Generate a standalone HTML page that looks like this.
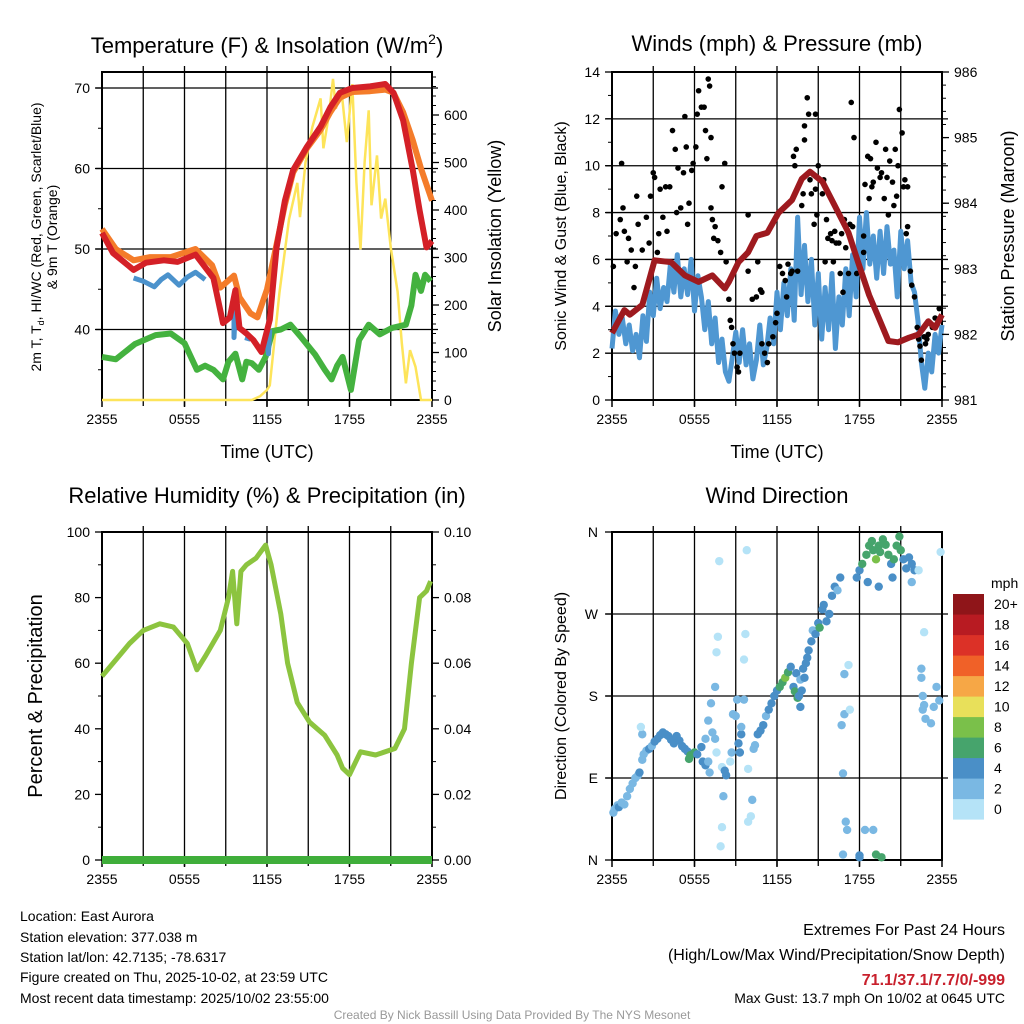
<!DOCTYPE html>
<html><head><meta charset="utf-8"><style>
html,body{margin:0;padding:0;background:#fff;width:1024px;height:1024px;overflow:hidden}
svg{display:block;font-family:"Liberation Sans",Arial,sans-serif}
</style></head><body>
<svg id="fig" width="1024" height="1024" viewBox="0 0 1024 1024" xmlns="http://www.w3.org/2000/svg">
<text x="267" y="53" font-size="22" text-anchor="middle">Temperature (F) &amp; Insolation (W/m<tspan font-size="14" dy="-9">2</tspan><tspan dy="9">)</tspan></text>
<text x="777" y="45" font-size="22" text-anchor="middle" dominant-baseline="middle">Winds (mph) &amp; Pressure (mb)</text>
<text x="267" y="497" font-size="22" text-anchor="middle" dominant-baseline="middle">Relative Humidity (%) &amp; Precipitation (in)</text>
<text x="777" y="497" font-size="22" text-anchor="middle" dominant-baseline="middle">Wind Direction</text>

<text transform="translate(41,237) rotate(-90)" font-size="14" text-anchor="middle">2m T, T<tspan font-size="9" dy="3">d</tspan><tspan dy="-3">, HI/WC (Red, Green, Scarlet/Blue)</tspan></text>
<text transform="translate(57,237) rotate(-90)" font-size="14" text-anchor="middle">&amp; 9m T (Orange)</text>
<text transform="translate(501,236) rotate(-90)" font-size="18" text-anchor="middle">Solar Insolation (Yellow)</text>
<text transform="translate(566,236) rotate(-90)" font-size="16" text-anchor="middle">Sonic Wind &amp; Gust (Blue, Black)</text>
<text transform="translate(1014,236) rotate(-90)" font-size="18" text-anchor="middle">Station Pressure (Maroon)</text>
<text transform="translate(42,696) rotate(-90)" font-size="20" text-anchor="middle">Percent &amp; Precipitation</text>
<text transform="translate(566,696) rotate(-90)" font-size="16" text-anchor="middle">Direction (Colored By Speed)</text>
<text x="267" y="458" font-size="18" text-anchor="middle">Time (UTC)</text>
<text x="777" y="458" font-size="18" text-anchor="middle">Time (UTC)</text>

<g font-size="14">
<text x="20" y="921">Location: East Aurora</text>
<text x="20" y="942">Station elevation: 377.038 m</text>
<text x="20" y="962">Station lat/lon: 42.7135; -78.6317</text>
<text x="20" y="982">Figure created on Thu, 2025-10-02, at 23:59 UTC</text>
<text x="20" y="1003">Most recent data timestamp: 2025/10/02 23:55:00</text>
</g>
<g text-anchor="end">
<text x="1005" y="935" font-size="16">Extremes For Past 24 Hours</text>
<text x="1005" y="960" font-size="16">(High/Low/Max Wind/Precipitation/Snow Depth)</text>
<text x="1005" y="985" font-size="16" font-weight="bold" fill="#c8202c">71.1/37.1/7.7/0/-999</text>
<text x="1005" y="1003" font-size="14">Max Gust: 13.7 mph On 10/02 at 0645 UTC</text>
</g>
<text x="512" y="1019" font-size="12" fill="#999" text-anchor="middle">Created By Nick Bassill Using Data Provided By The NYS Mesonet</text>
</svg>
<script>
// ---------- DATA ----------
const xTickLabels = ["2355","0555","1155","1755","2355"];
const tempTicks = [40,50,60,70];
const solarTicks = [0,100,200,300,400,500,600];
const windTicks = [0,2,4,6,8,10,12,14];
const pressTicks = [981,982,983,984,985,986];
const rhTicks = [0,20,40,60,80,100];
const precipTicks = ["0.00","0.02","0.04","0.06","0.08","0.10"];
const dirTicks = ["N","E","S","W","N"];
const speedBins = ["0","2","4","6","8","10","12","14","16","18","20+"];
const speedColors = ["#b5e3f7","#7ab8e3","#4a8fc7","#46a46c","#7ac04a","#e8e05a","#f6a746","#f06128","#dc3127","#b81b22","#8f1519"];

const tempHours = [0,0.8,2.3,3.2,4.5,5.5,6.8,8.1,8.8,9.3,9.7,10,10.5,11,11.6,12.2,12.7,13.3,13.9,14.9,15.9,16.6,17.3,18.2,19.5,20.6,21.2,21.9,22.6,23.1,23.6,24];
const tempValues = [52,49.5,47.4,48.3,48.6,48.4,49.3,46.4,40.8,41.5,44.9,40.2,39.5,38.7,37.2,41.2,50.2,56,59.8,62.7,65.2,67.6,69.4,70,70.2,70.5,69.4,66,59.8,54.8,50.2,51];
const temp9Hours = [0,1,2.3,3.5,5,6.8,8,8.6,9.6,10,10.8,11.3,12,12.5,13.3,13.9,14.9,15.9,16.6,17.3,18.2,19.5,20.6,21.2,21.9,22.6,23.2,24];
const temp9Values = [52.5,50,48.6,49,49,50,48,45.2,46.7,44,42,41.5,45,49,55.5,59.5,62.5,64.8,67,68.8,69.5,69.6,69.8,69.4,67,63.5,60,56];
const hiHours = [2.3,3,3.8,4.3,4.8,5.6,6.2,6.8,7.5,null,9.6,9.6,9.7,null,10.4,10.8,null,12.0,12.1,12.2];
const hiValues = [46.4,46,45.3,46.2,46.8,45.5,46.5,47.1,46.2,null,43,39,42.5,null,39,38.8,null,39,37,40];
const tdHours = [0,1,2.4,3.9,5,6,6.9,7.5,8.1,8.8,9.2,9.7,10.2,10.5,10.9,11.4,11.9,12.4,13,13.7,14.5,15.5,16.2,16.7,17.1,17.5,18.1,18.7,19.4,20.2,21.1,22.1,22.5,22.8,23.2,23.5,23.9];
const tdValues = [36.6,36.3,38.2,39.3,39.5,38.3,35,35.5,35,33.8,36,37,33.8,36,35.8,35,36.6,39.8,40,40.6,39,36.9,35,33.8,35.5,36.6,32.5,38.7,40.6,39.4,40.2,40.6,43,46.8,44.8,46.8,46];
const solarHours = [0,10.9,11.5,12,12.2,12.9,13.6,14.2,14.4,14.8,15.3,15.9,16.1,16.5,16.8,17,17.4,17.8,18.2,18.5,18.8,19.1,19.4,19.6,20,20.3,20.6,21,21.5,21.8,22.1,22.4,22.8,23.2,24];
const solarValues = [0,0,8,21,31,225,380,457,385,500,575,635,530,600,676,613,655,543,665,458,317,500,610,410,515,382,424,320,228,120,35,105,70,0,0];

const windHours = [0,0.25,0.5,0.75,1,1.25,1.5,1.75,2,2.25,2.5,2.75,3,3.25,3.5,3.75,4,4.25,4.5,4.75,5,5.25,5.5,5.75,6,6.25,6.5,6.75,7,7.25,7.5,7.75,8,8.25,8.5,8.75,9,9.25,9.5,9.75,10,10.25,10.5,10.75,11,11.25,11.5,11.75,12,12.25,12.5,12.75,13,13.25,13.5,13.75,14,14.25,14.5,14.75,15,15.25,15.5,15.75,16,16.25,16.5,16.75,17,17.25,17.5,17.75,18,18.25,18.5,18.75,19,19.25,19.5,19.75,20,20.25,20.5,20.75,21,21.25,21.5,21.75,22,22.25,22.5,22.75,23,23.25,23.5,23.75,24];
const windValues = [2.2,3.8,2.8,3.5,2.4,3.2,2.1,2.8,1.8,3.6,2.5,4.6,3.6,5.2,3.9,4.8,4.2,5.8,4.6,6.2,4.4,5.6,4.5,6.0,3.8,5.3,4.4,3.0,4.2,2.4,3.5,1.6,2.6,1.2,0.8,1.8,2.9,1.6,3.0,1.5,2.4,0.9,1.7,3.2,1.5,2.2,3.5,2.4,4.6,3.0,5.0,3.6,5.6,3.4,7.8,4.5,6.6,4.2,6.0,3.2,5.4,2.6,4.8,3.0,5.4,2.2,4.4,3.2,5.6,3.6,6.2,4.4,7.8,5.6,8.0,5.8,7.0,5.2,7.2,5.4,7.4,5.8,6.4,4.4,7.2,5.6,6.8,5.0,4.6,3.4,1.6,0.5,2.0,1.2,2.8,2.0,3.2];
const pressHours = [0,0.9,1.3,2.2,3.1,4.3,5.3,6.3,7.3,8.2,8.5,9.2,9.9,10.5,11.3,12.1,13.1,13.8,14.4,15.3,16.2,17.2,17.9,18.7,19.4,20.1,20.8,21.6,22.3,23,23.5,24];
const pressValues = [982.02,982.37,982.3,982.45,983.13,983.1,982.9,982.8,982.9,982.7,982.8,983.1,983.25,983.5,983.55,983.85,984.05,984.37,984.48,984.33,983.96,983.55,983.1,982.6,982.25,981.9,981.88,981.95,982.0,982.2,982.1,982.3];
const gustHours = [0.1,0.3,0.7,0.6,0.8,0.9,1.2,1.1,1.4,1.7,1.6,1.8,1.9,2.2,2.5,2.7,2.8,3.0,3.1,3.4,3.3,3.5,3.7,3.9,4.0,4.2,4.4,4.6,4.7,4.8,5.0,5.2,5.3,5.4,5.5,5.6,5.8,5.9,6.1,6.2,6.3,6.5,6.7,6.8,6.9,7.0,7.1,7.2,7.2,7.3,7.5,7.4,7.7,7.9,8.0,8.2,8.3,8.5,8.6,8.7,8.8,8.9,9.1,9.2,9.3,9.9,9.9,10.2,10.5,10.6,10.8,10.9,10.9,11.1,11.3,11.4,11.7,11.9,12.0,12.2,12.4,12.6,12.7,12.8,13.0,13.1,13.2,13.3,13.4,13.5,13.8,13.9,14.0,14.0,14.2,14.3,14.4,14.5,14.7,14.8,14.8,14.9,15.0,15.3,15.4,15.5,15.6,15.7,15.9,16.0,16.1,16.2,16.3,16.5,16.6,16.7,16.8,16.9,17.0,17.2,17.3,17.4,17.5,17.6,17.8,18.3,18.3,18.4,18.6,18.7,18.8,18.9,19.0,19.2,19.3,19.5,19.6,19.8,19.9,20.0,20.1,20.2,20.4,20.5,20.6,20.7,20.8,20.9,21.1,21.2,21.3,21.4,21.5,21.5,21.7,21.8,22.0,22.2,22.3,22.4,22.5,22.7,22.8,22.9,23.0,23.3,23.5,23.8];
const gustValues = [5.7,7.1,10.1,7.7,8.2,7.2,6.9,5.9,6.4,5.7,4.8,8.7,7.5,6.4,7.8,6.7,8.7,9.7,9.5,7.1,6.3,9.0,7.8,9.1,7.2,9.1,11.5,10.7,8.0,9.9,8.2,9.7,12.1,10.8,7.5,8.4,9.8,10.1,10.8,12.2,13.2,12.5,12.5,11.5,10.3,13.7,13.4,11.2,8.2,7.7,7.4,6.9,6.8,6.3,9.1,10.1,5.9,4.3,3.4,3.1,2.4,2.0,1.4,1.2,2.0,7.9,5.5,4.3,4.4,5.9,4.7,4.6,2.4,2.0,1.6,2.4,2.7,3.3,3.7,5.7,5.4,5.1,4.4,5.8,5.4,5.5,10.4,10.0,10.7,5.5,8.3,8.8,11.7,11.1,12.9,12.2,9.4,8.8,7.5,12.2,9.0,7.9,10.0,8.8,9.4,5.9,7.7,6.9,7.1,6.8,5.9,7.2,6.7,6.7,5.4,7.1,4.6,7.7,6.5,5.4,7.5,12.7,7.4,11.2,5.4,7.0,6.3,9.2,10.4,8.6,10.3,9.1,9.3,11.0,9.9,9.5,9.7,8.6,10.7,9.5,7.9,10.2,9.3,8.3,10.7,8.7,10.0,12.4,11.4,9.1,9.4,7.1,9.1,7.4,5.5,4.9,4.4,3.1,2.6,2.3,1.7,2.7,2.4,2.6,2.8,3.1,3.5,3.9];

const rhHours = [0,1,2,3,4.2,5.2,6.2,6.9,7.5,8.6,9.2,9.5,9.8,10.1,10.5,11.2,11.9,12.3,13,13.5,14.2,15.1,16.2,17.1,17.5,18,18.8,19.9,21.3,22,22.5,23.1,23.6,23.9];
const rhValues = [56,61,66,70,72,71,66,58,62,70,80,88,72,88,90,92,96,90,75,60,48,42,38,32,28,26,33,32,34,40,60,80,82,85];
const precipHours = [0,24];
const precipValues = [0,0];

const dirHours = [
0.1,0.2,0.4,0.5,0.7,0.9,1.1,1.3,1.5,1.7,
1.9,2.0,2.2,2.3,2.5,2.7,2.9,2.2,2.1,3.1,
3.3,3.5,3.7,3.9,4.1,4.3,4.5,4.7,4.9,5.1,
5.3,5.5,5.7,5.6,6.0,6.2,6.5,6.6,6.8,7.0,
7.1,6.8,7.0,7.3,7.5,7.6,7.2,7.5,7.6,7.7,
7.8,8.0,8.2,8.3,8.1,8.0,7.9,8.6,8.7,8.8,
9.0,9.1,9.2,9.4,9.3,9.4,9.6,9.6,9.7,9.8,
9.9,10.2,10.1,9.9,10.3,10.4,10.6,10.8,11.0,11.2,
11.4,11.6,11.8,12.0,12.2,12.4,12.6,12.8,13.0,13.2,
13.4,13.3,13.5,13.6,13.7,13.7,13.8,13.9,14.0,14.1,
14.2,14.3,14.5,14.6,14.8,15.0,15.1,15.3,15.4,15.6,
15.8,16.0,16.2,16.4,16.6,16.8,17.0,17.1,16.7,16.9,
17.3,16.9,17.2,16.8,18.0,18.0,18.4,19.0,19.2,19.6,
17.8,18.0,18.2,18.5,18.7,18.9,19.0,19.2,19.4,19.5,
19.7,19.9,20.1,20.3,20.5,20.7,20.9,21.0,21.2,21.4,
21.6,21.8,22.0,18.6,19.4,20.4,21.8,22.3,22.5,22.6,
22.6,22.7,22.8,23.2,23.4,23.6,23.8,23.9,22.7,22.5];
const dirValues = [
52,56,60,58,63,61,70,78,84,90,
93,96,110,116,120,122,125,138,146,130,
133,137,140,138,136,132,128,136,131,125,
122,119,115,111,118,116,124,108,104,108,
96,133,153,140,133,118,172,190,228,245,
328,102,98,93,70,36,15,108,118,160,
158,176,128,138,118,146,176,220,248,340,
100,66,48,42,122,126,138,142,148,158,
165,172,180,186,190,195,200,206,212,190,
205,185,178,180,168,198,186,210,200,216,
222,230,240,252,248,260,255,275,280,262,
270,290,300,296,310,95,42,33,148,160,
165,204,214,6,3,5,33,33,6,3,
310,318,325,335,345,350,340,330,345,338,
352,346,335,325,330,345,355,340,330,320,
332,325,318,305,300,310,305,318,210,180,
165,170,155,150,168,190,175,338,250,200];
const dirSpeedClass = [
1,1,1,2,1,1,1,1,1,1,
1,2,1,1,1,2,1,1,0,2,
2,2,2,2,2,2,2,2,2,2,
2,2,3,3,3,2,2,2,2,1,
1,1,1,1,1,0,1,1,0,0,
0,0,2,2,1,0,0,0,1,1,
1,1,2,2,2,1,1,0,0,0,
0,1,0,0,1,1,2,2,2,1,
2,2,2,2,3,3,4,3,2,2,
2,3,3,2,2,1,2,2,2,2,
2,2,2,1,2,2,3,2,2,2,
2,2,2,1,2,1,1,1,1,1,
0,1,0,1,2,2,1,1,3,3,
2,2,3,3,3,3,3,4,3,3,
3,3,3,2,3,3,3,3,2,2,
2,2,2,2,2,2,1,0,1,1,
1,1,1,1,1,1,1,0,0,1];

// ---------- DRAW ----------
const NS = "http://www.w3.org/2000/svg";
const fig = document.getElementById('fig');
function mk(tag, attrs, parent){ const e=document.createElementNS(NS,tag); for(const k in attrs) e.setAttribute(k,attrs[k]); (parent||fig).appendChild(e); return e; }

function panel(L,T,W,H){ return {L,T,W,H, x:h=>L+h*W/24}; }
const P1 = panel(102,72,330,328), P2 = panel(612,72,330,328), P3 = panel(102,532,330,328), P4 = panel(612,532,330,328);
const yTemp = v=>88+(70-v)*8.05;
const ySolar = v=>400-v*0.475;
const yWind = v=>400-v*(328/14);
const yPress = v=>400-(v-981)*(328/5);
const yRH = v=>860-v*3.28;
const yPrecip = v=>860-v*3280;
const yDir = v=>860-v*(328/360);

function linePath(hs,vs,P,yf){
  let d="",pen=false;
  for(let i=0;i<hs.length;i++){
    if(hs[i]===null||vs[i]===null){pen=false;continue;}
    d+=(pen?"L":"M")+P.x(hs[i]).toFixed(1)+","+yf(vs[i]).toFixed(1);
    pen=true;
  }
  return d;
}
function clipFor(P,id){ const c=mk('clipPath',{id:id}); mk('rect',{x:P.L-3,y:P.T-3,width:P.W+6,height:P.H+6},c); return 'url(#'+id+')'; }

function frame(P,name,hGrid,vGrid){
  const g=mk('g',{});
  
  
  if(vGrid) for(let k=1;k<8;k++){ const x=P.x(k*3); mk('line',{x1:x,y1:P.T-6,x2:x,y2:P.T+P.H+6,stroke:'#000','stroke-width':1.3},g); }
  (hGrid||[]).forEach(y=>mk('line',{x1:P.L-6,y1:y,x2:P.L+P.W+6,y2:y,stroke:'#000','stroke-width':1.3},g));
  mk('rect',{x:P.L,y:P.T,width:P.W,height:P.H,fill:'none',stroke:'#000','stroke-width':2},g);
  xTickLabels.forEach((t,i)=>{
    const x=P.x(i*6);
    mk('line',{x1:x,y1:P.T+P.H,x2:x,y2:P.T+P.H+7,stroke:'#000','stroke-width':1.5},g);
    const tx=mk('text',{x:x,y:P.T+P.H+24,'font-size':14,'text-anchor':'middle'},g); tx.textContent=t;
    
    
  });
  return g;
}
function leftLabels(P,vals,yf,fmt){
  vals.forEach(v=>{ const y=yf(v); mk('line',{x1:P.L-7,y1:y,x2:P.L,y2:y,stroke:'#000','stroke-width':1.3});
    const t=mk('text',{x:P.L-12,y:y+5,'font-size':14,'text-anchor':'end'}); t.textContent=fmt?fmt(v):v;
    
     });
}
function rightLabels(P,vals,yf,labels){
  vals.forEach((v,i)=>{ const y=yf(v); mk('line',{x1:P.L+P.W,y1:y,x2:P.L+P.W+7,y2:y,stroke:'#000','stroke-width':1.3});
    const t=mk('text',{x:P.L+P.W+12,y:y+5,'font-size':14,'text-anchor':'start'}); t.textContent=labels?labels[i]:v;
    
     });
}
function minorTicks(x,from,to,step,yf,dir){
  for(let v=from;v<=to+1e-9;v+=step){ const y=yf(v); if(y<72) continue; mk('line',{x1:x,y1:y,x2:x+dir*4,y2:y,stroke:'#000','stroke-width':1}); }
}

// Panel 1
frame(P1,'temp',tempTicks.map(yTemp),true);
const c1=clipFor(P1,'c1');
let s=mk('path',{d:linePath(solarHours,solarValues,P1,ySolar),fill:'none',stroke:'#fde45a','stroke-width':2.5,'clip-path':c1});
 
s=mk('path',{d:linePath(tdHours,tdValues,P1,yTemp),fill:'none',stroke:'#44b23f','stroke-width':6,'stroke-linejoin':'round','clip-path':c1});
 
s=mk('path',{d:linePath(hiHours,hiValues,P1,yTemp),fill:'none',stroke:'#4b92cc','stroke-width':5,'stroke-linejoin':'round','clip-path':c1});
 
s=mk('path',{d:linePath(temp9Hours,temp9Values,P1,yTemp),fill:'none',stroke:'#f47c2a','stroke-width':6,'stroke-linejoin':'round','clip-path':c1});
 
s=mk('path',{d:linePath(tempHours,tempValues,P1,yTemp),fill:'none',stroke:'#d42027','stroke-width':6,'stroke-linejoin':'round','clip-path':c1});
 
leftLabels(P1,tempTicks,yTemp); minorTicks(P1.L,35,65,10,yTemp,-1);
rightLabels(P1,solarTicks,ySolar); minorTicks(P1.L+P1.W,0,680,20,ySolar,1);

// Panel 2
frame(P2,'wind',windTicks.slice(1,7).map(yWind),true);
const c2=clipFor(P2,'c2');
s=mk('path',{d:linePath(windHours,windValues,P2,yWind),fill:'none',stroke:'#4f97d2','stroke-width':5,'stroke-linejoin':'round','clip-path':c2});
 
gustHours.forEach((h,i)=>{ const c=mk('circle',{cx:P2.x(h),cy:yWind(gustValues[i]),r:2.8,fill:'#000'});
    });
s=mk('path',{d:linePath(pressHours,pressValues,P2,yPress),fill:'none',stroke:'#9e1a1f','stroke-width':6,'stroke-linejoin':'round','clip-path':c2});
 
leftLabels(P2,windTicks,yWind); minorTicks(P2.L,1,13,2,yWind,-1);
rightLabels(P2,pressTicks,yPress); minorTicks(P2.L+P2.W,981,986,0.2,yPress,1);

// Panel 3
frame(P3,'rh',[],true);
s=mk('path',{d:linePath(precipHours,precipValues,P3,yPrecip),fill:'none',stroke:'#3fae3a','stroke-width':8});
 
s=mk('path',{d:linePath(rhHours,rhValues,P3,yRH),fill:'none',stroke:'#8cc43f','stroke-width':5,'stroke-linejoin':'round'});
 
leftLabels(P3,rhTicks,yRH); minorTicks(P3.L,10,90,20,yRH,-1);
rightLabels(P3,[0,0.02,0.04,0.06,0.08,0.10],yPrecip,precipTicks); minorTicks(P3.L+P3.W,0.01,0.09,0.02,yPrecip,1);

// Panel 4
frame(P4,'direction',[90,180,270].map(yDir),true);
const c4=clipFor(P4,'c4');
const dg=mk('g',{'clip-path':c4});
dirHours.forEach((h,i)=>{ const c=mk('circle',{cx:P4.x(h),cy:yDir(dirValues[i]),r:4.2,fill:speedColors[dirSpeedClass[i]]},dg);
    });
dirTicks.forEach((t,i)=>{ const y=yDir(i*90); mk('line',{x1:P4.L-7,y1:y,x2:P4.L,y2:y,stroke:'#000','stroke-width':1.3});
  const tx=mk('text',{x:P4.L-14,y:y+5,'font-size':14,'text-anchor':'end'}); tx.textContent=t;
    });

// Colorbar
const cb=mk('g',{});
 
const ct=mk('text',{x:991,y:588,'font-size':14},cb); ct.textContent='mph';
speedBins.forEach((lab,i)=>{ const k=speedBins.length-1-i; const y=594+k*20.5;
  const r=mk('rect',{x:953,y:y,width:31,height:20.6,fill:speedColors[i]},cb);
  
  
  const t=mk('text',{x:994,y:y+15,'font-size':14},cb); t.textContent=lab;
});
</script>
</body></html>
